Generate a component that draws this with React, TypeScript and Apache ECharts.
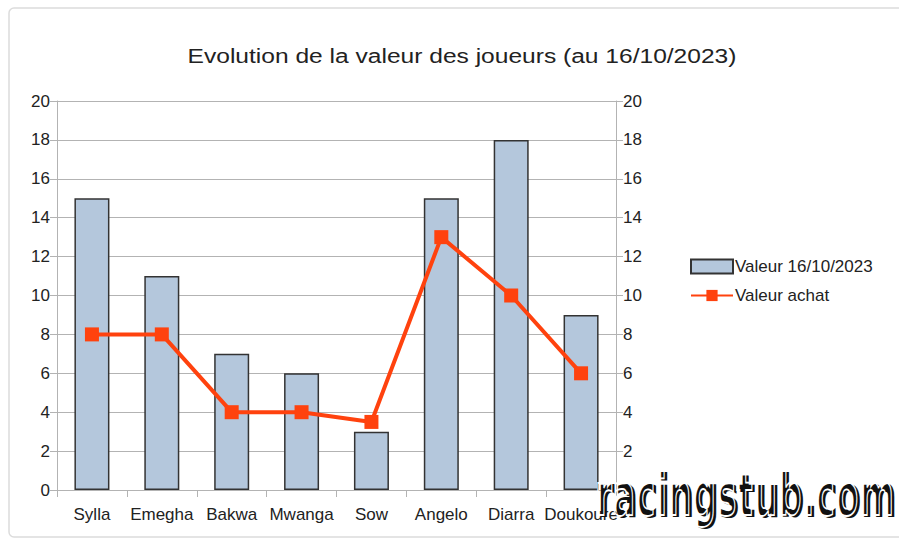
import React, { useEffect, useRef } from "react";
import * as echarts from "echarts";

const categories = ["Sylla", "Emegha", "Bakwa", "Mwanga", "Sow", "Angelo", "Diarra", "Doukoure"];
const valeurActuelle = [15, 11, 7, 6, 3, 15, 18, 9];
const valeurAchat = [8, 8, 4, 4, 3.5, 13, 10, 6];
const titleText = "Evolution de la valeur des joueurs (au 16/10/2023)";
const seriesNames = ["Valeur 16/10/2023", "Valeur achat"];
const watermark = "racingstub.com";

const FONT = "'Liberation Sans', Arial, sans-serif";
const WM_FONT = "'DejaVu Sans', sans-serif";

export default function App() {
  const ref = useRef<HTMLDivElement>(null);
  useEffect(() => {
    if (!ref.current) return;
    const chart = echarts.init(ref.current, undefined, { renderer: "svg" });
    const axisGray = "#b3b3b3";
    const yAxisBase = {
      type: "value" as const,
      min: 0,
      max: 20,
      interval: 2,
      axisLine: { show: true, lineStyle: { color: axisGray, width: 1 } },
      axisTick: { show: true, length: 7, lineStyle: { color: axisGray } },
      axisLabel: { color: "#222", fontSize: 17, fontFamily: FONT, margin: 7 },
      splitLine: { show: true, lineStyle: { color: axisGray, width: 1 } },
    };
    chart.setOption({
      animation: false,
      backgroundColor: "#fff",
      textStyle: { fontFamily: FONT },
      grid: { left: 57, right: 283, top: 101, bottom: 49, containLabel: false },
      legend: {
        orient: "vertical",
        left: 685,
        top: 253,
        itemWidth: 42,
        itemHeight: 14,
        itemGap: 12,
        textStyle: { fontSize: 17, color: "#222", fontFamily: FONT, padding: [0, 0, 0, -3] },
        data: [
          { name: seriesNames[0], icon: "rect" },
          { name: seriesNames[1] },
        ],
      },
      xAxis: {
        type: "category",
        data: categories,
        boundaryGap: true,
        axisLine: { show: true, lineStyle: { color: axisGray } },
        axisTick: { show: true, length: 7, alignWithLabel: false, lineStyle: { color: axisGray } },
        axisLabel: { color: "#222", fontSize: 17, fontFamily: FONT, margin: 16, interval: 0 },
        splitLine: { show: false },
      },
      yAxis: [
        { ...yAxisBase, position: "left" },
        { ...yAxisBase, position: "right", splitLine: { show: false } },
      ],
      series: [
        {
          name: seriesNames[0],
          type: "bar",
          data: valeurActuelle,
          barWidth: 35,
          itemStyle: { color: "#b4c7dc", borderColor: "#333", borderWidth: 1.5 },
        },
        {
          name: seriesNames[1],
          type: "line",
          data: valeurAchat,
          symbol: "rect",
          symbolSize: 14,
          lineStyle: { color: "#ff420e", width: 4 },
          itemStyle: { color: "#ff420e" },
        },
      ],
      graphic: [
        {
          type: "rect",
          shape: { x: 9, y: 8, width: 930, height: 529, r: 5 },
          style: { fill: "none", stroke: "#dcdcdc", lineWidth: 1.5 },
          silent: true,
          z: -10,
        },
        {
          type: "text",
          x: 462,
          y: 56,
          scaleX: 1.17,
          style: {
            text: titleText,
            fontSize: 21,
            fontFamily: FONT,
            fill: "#222",
            textAlign: "center",
            textVerticalAlign: "middle",
          },
        },
        {
          type: "text",
          x: 598,
          y: 526,
          scaleX: 0.685,
          scaleY: 1.18,
          style: {
            text: watermark,
            fontSize: 50,
            fontWeight: "bold",
            fontFamily: WM_FONT,
            fill: "#111",
            textAlign: "left",
            textVerticalAlign: "bottom",
          },
          z: 100,
        },
        {
          type: "text",
          x: 595,
          y: 524,
          scaleX: 0.685,
          scaleY: 1.18,
          style: {
            text: watermark,
            fontSize: 50,
            fontWeight: "bold",
            fontFamily: WM_FONT,
            fill: "none",
            stroke: "#fff",
            lineWidth: 1.5,
            textAlign: "left",
            textVerticalAlign: "bottom",
          },
          z: 101,
        },
      ],
    });
    return () => chart.dispose();
  }, []);
  return (
    <div
      ref={ref}
      style={{ position: "fixed", left: 0, top: 0, width: 899, height: 539 }}
    />
  );
}
